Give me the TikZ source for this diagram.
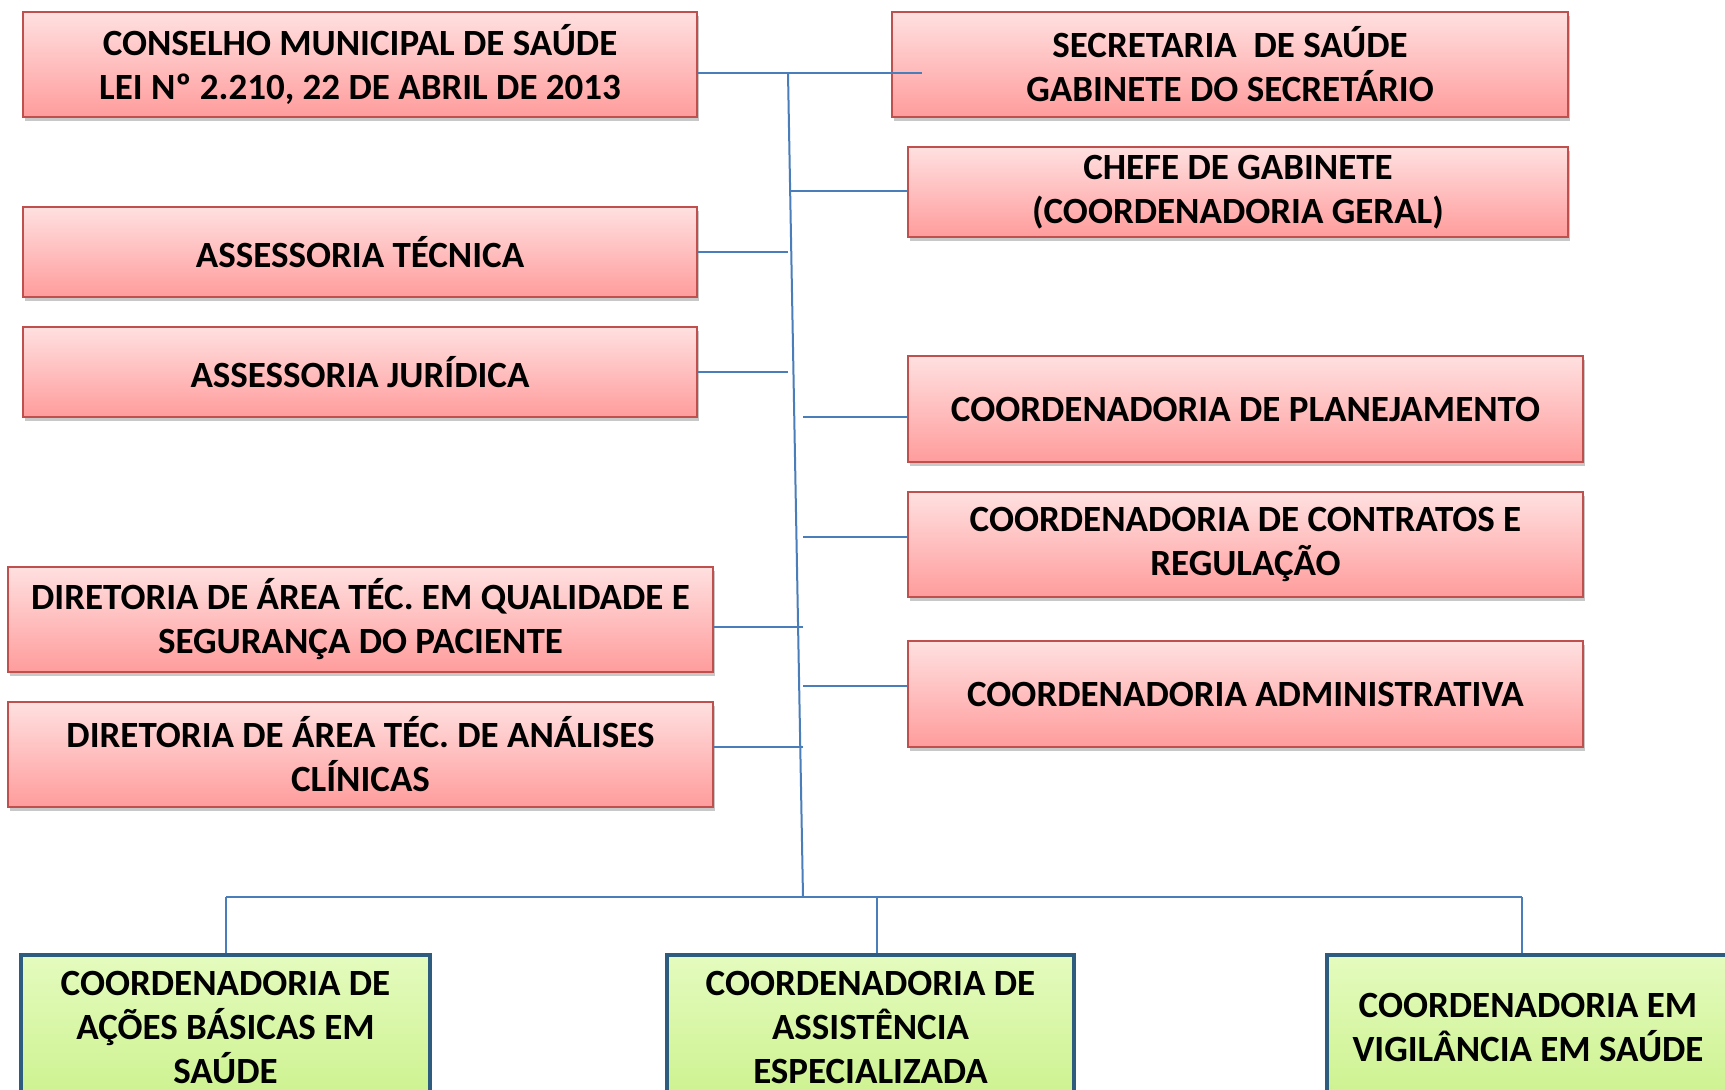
\documentclass[tikz,border=0pt]{standalone}
\usepackage{fontspec}
\setmainfont{Carlito}
\usetikzlibrary{shadows}
\definecolor{boxred}{HTML}{C0504D}
\definecolor{redtop}{HTML}{FFE0E0}
\definecolor{redbot}{HTML}{FF9C9C}
\definecolor{greentop}{HTML}{E4FBBE}
\definecolor{greenbot}{HTML}{CDF28F}
\definecolor{greenborder}{HTML}{2E5C7E}
\definecolor{conncol}{HTML}{4A7EBB}
\tikzset{
  redbox/.style={rectangle, draw=boxred, line width=1.6pt, top color=redtop, bottom color=redbot,
    align=center, inner sep=0pt, font=\bfseries\fontsize{37}{44}\selectfont,
    drop shadow={shadow xshift=2pt, shadow yshift=-4pt, opacity=0.3, fill=black!70}},
  greenbox/.style={rectangle, draw=greenborder, line width=4.5pt, top color=greentop, bottom color=greenbot,
    align=center, inner sep=0pt, font=\bfseries\fontsize{37}{44}\selectfont},
  conn/.style={draw=conncol, line width=2pt}
}
\begin{document}
\begin{tikzpicture}[x=1pt,y=-1pt]
\fill[white] (0,0) rectangle (1725,1090);
\useasboundingbox (0,0) rectangle (1725,1090);
\clip (0,0) rectangle (1725,1090);
% red boxes
\node[redbox, minimum width=674pt, minimum height=105pt] (cons) at (360,64.5) {CONSELHO MUNICIPAL DE SAÚDE\\LEI Nº 2.210, 22 DE ABRIL DE 2013};
\node[redbox, minimum width=676pt, minimum height=105pt] (sec) at (1230,64.5) {SECRETARIA\ \ DE SAÚDE\\GABINETE DO SECRETÁRIO};
\node[redbox, minimum width=660pt, minimum height=90pt] (chefe) at (1238,192) {CHEFE DE GABINETE\\(COORDENADORIA GERAL)};
\node[redbox, minimum width=674pt, minimum height=90pt] (tec) at (360,252) {ASSESSORIA TÉCNICA};
\node[redbox, minimum width=674pt, minimum height=90pt] (jur) at (360,372) {ASSESSORIA JURÍDICA};
\node[redbox, minimum width=675pt, minimum height=106pt] (plan) at (1245.5,409) {COORDENADORIA DE PLANEJAMENTO};
\node[redbox, minimum width=675pt, minimum height=105pt] (contr) at (1245.5,544.5) {COORDENADORIA DE CONTRATOS E\\REGULAÇÃO};
\node[redbox, minimum width=705pt, minimum height=105pt] (qual) at (360.5,619.5) {DIRETORIA DE ÁREA TÉC. EM QUALIDADE E\\SEGURANÇA DO PACIENTE};
\node[redbox, minimum width=675pt, minimum height=106pt] (adm) at (1245.5,694) {COORDENADORIA ADMINISTRATIVA};
\node[redbox, minimum width=705pt, minimum height=105pt] (anal) at (360.5,754.5) {DIRETORIA DE ÁREA TÉC. DE ANÁLISES\\CLÍNICAS};
% green boxes
\node[greenbox, minimum width=409pt, minimum height=145pt] (g1) at (225.5,1027.5) {COORDENADORIA DE\\AÇÕES BÁSICAS EM\\SAÚDE};
\node[greenbox, minimum width=407pt, minimum height=145pt] (g2) at (870.5,1027.5) {COORDENADORIA DE\\ASSISTÊNCIA\\ESPECIALIZADA};
\node[greenbox, minimum width=402pt, minimum height=145pt] (g3) at (1528,1027.5) {COORDENADORIA EM\\VIGILÂNCIA EM SAÚDE};
% junction coordinates
\coordinate (jtop) at (788,73);
\coordinate (jbot) at (803,897);
\coordinate (secin) at (922,73);
\coordinate (jchefe) at (790,191);
\coordinate (jtec) at (788,252);
\coordinate (jjur) at (788,372);
\coordinate (jplan) at (803,417);
\coordinate (jcontr) at (803,537);
\coordinate (jqual) at (803,627);
\coordinate (jadm) at (803,686);
\coordinate (janal) at (803,747);
\coordinate (b1) at (226,897);
\coordinate (b2) at (877,897);
\coordinate (b3) at (1522,897);
% connectors
\draw[conn] (cons.east |- jtop) -- (secin);
\draw[conn] (jtop) -- (jbot);
\draw[conn] (jchefe) -- (chefe.west |- jchefe);
\draw[conn] (tec.east |- jtec) -- (jtec);
\draw[conn] (jur.east |- jjur) -- (jjur);
\draw[conn] (jplan) -- (plan.west |- jplan);
\draw[conn] (jcontr) -- (contr.west |- jcontr);
\draw[conn] (qual.east |- jqual) -- (jqual);
\draw[conn] (jadm) -- (adm.west |- jadm);
\draw[conn] (anal.east |- janal) -- (janal);
\draw[conn] (b1) -- (b3);
\draw[conn] (b1) -- (g1.north -| b1);
\draw[conn] (b2) -- (g2.north -| b2);
\draw[conn] (b3) -- (g3.north -| b3);
\end{tikzpicture}
\end{document}
